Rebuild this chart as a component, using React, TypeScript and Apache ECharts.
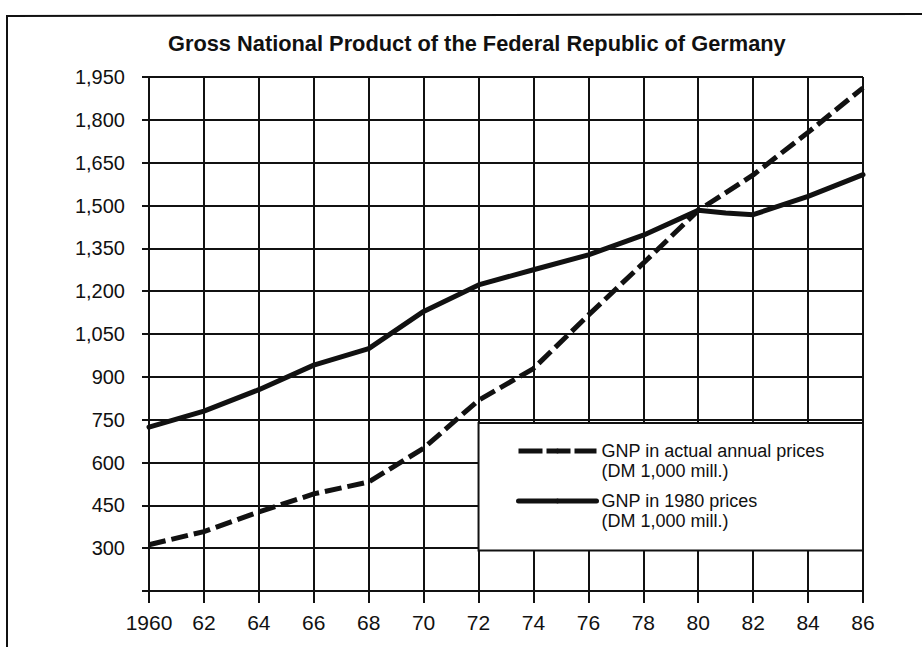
import React, { useEffect, useRef } from 'react';
import * as echarts from 'echarts';

const titleText = 'Gross National Product of the Federal Republic of Germany';
const nominalName = 'GNP in actual annual prices';
const realName = 'GNP in 1980 prices';
const unitText = '(DM 1,000 mill.)';

const nominalYears = [1960, 1962, 1964, 1966, 1968, 1970, 1972, 1974, 1976, 1978, 1980, 1982, 1984, 1986];
const nominalValues = [312, 358, 427, 490, 532, 650, 818, 929, 1116, 1298, 1483, 1607, 1756, 1912];

const realYears = [1960, 1962, 1964, 1966, 1968, 1970, 1972, 1974, 1976, 1978, 1980, 1981, 1982, 1984, 1986];
const realValues = [724, 780, 855, 941, 999, 1129, 1222, 1275, 1327, 1396, 1483, 1474, 1468, 1532, 1608];

const yMin = 150;
const yMax = 1950;
const yStep = 150;
const xMin = 1960;
const xMax = 1986;
const xStep = 2;

// legend panel corners in data coordinates (year, value)
const legendPanelFrom = [1972, 738];
const legendPanelTo = [1986, 292];

const INK = '#111111';
const FONT = '"Liberation Sans", Arial, Helvetica, sans-serif';

export default function App() {
  const ref = useRef<HTMLDivElement>(null);
  useEffect(() => {
    if (!ref.current) return;
    const chart = echarts.init(ref.current, null, { renderer: 'svg' });
    const option: any = {
      animation: false,
      backgroundColor: '#ffffff',
      title: {
        text: titleText,
        left: 163,
        top: 27,
        textStyle: { fontFamily: FONT, fontSize: 21.8, fontWeight: 'bold', color: INK },
      },
      grid: { left: 149, right: 59, top: 77, bottom: 56, containLabel: false, outerBoundsMode: 'none' },
      xAxis: {
        type: 'value',
        min: xMin,
        max: xMax,
        interval: xStep,
        axisLine: { show: true, lineStyle: { color: INK, width: 2 } },
        axisTick: { show: true, length: 12, lineStyle: { color: INK, width: 2 } },
        splitLine: { show: true, lineStyle: { color: INK, width: 2 } },
        axisLabel: {
          margin: 21,
          fontFamily: FONT,
          fontSize: 21,
          color: INK,
          formatter: (v: number) => (v === xMin ? String(v) : String(v).slice(2)),
        },
      },
      yAxis: {
        type: 'value',
        min: yMin,
        max: yMax,
        interval: yStep,
        axisLine: { show: true, lineStyle: { color: INK, width: 2 } },
        axisTick: { show: true, length: 7, lineStyle: { color: INK, width: 2 } },
        splitLine: { show: true, lineStyle: { color: INK, width: 2 } },
        axisLabel: {
          margin: 24,
          fontFamily: FONT,
          fontSize: 20,
          color: INK,
          formatter: (v: number) => (v === yMin ? '' : v.toLocaleString('en-US')),
        },
      },
      legend: {
        orient: 'vertical',
        left: 511,
        top: 416,
        itemWidth: 78,
        itemHeight: 6,
        itemGap: -10,
        textStyle: { fontFamily: FONT, fontSize: 18, color: INK, lineHeight: 20 },
        formatter: (name: string) => '\n' + name + '\n' + unitText,
        data: [
          { name: nominalName, lineStyle: { width: 5, color: INK, type: [24, 4] } },
          { name: realName, lineStyle: { width: 5, color: INK, type: 'solid' } },
        ],
        selectedMode: false,
      },
      series: [
        {
          name: realName,
          type: 'line',
          symbol: 'none',
          data: realYears.map((y, i) => [y, realValues[i]]),
          lineStyle: { color: INK, width: 5, join: 'round', cap: 'round' },
          itemStyle: { color: INK },
          z: 3,
          markArea: {
            silent: true,
            label: { show: false },
            itemStyle: { color: '#ffffff', opacity: 1, borderColor: INK, borderWidth: 2 },
            data: [[{ coord: legendPanelFrom }, { coord: legendPanelTo }]],
          },
        },
        {
          name: nominalName,
          type: 'line',
          symbol: 'none',
          data: nominalYears.map((y, i) => [y, nominalValues[i]]),
          lineStyle: { color: INK, width: 5, type: [17, 6], cap: 'butt' },
          itemStyle: { color: INK },
          z: 4,
        },
      ],
      graphic: [
        {
          type: 'polyline',
          silent: true,
          shape: { points: [[7, 647], [7, 16], [922, 14]] },
          style: { stroke: INK, lineWidth: 2, fill: 'none' },
        },
      ],
    };
    chart.setOption(option);
    return () => chart.dispose();
  }, []);
  return (
    <div
      ref={ref}
      style={{ position: 'fixed', left: 0, top: 0, width: 922, height: 647, background: '#fff' }}
    />
  );
}
